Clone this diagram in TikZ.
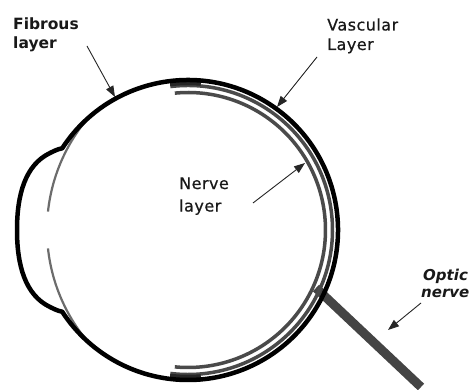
\documentclass[tikz,border=0pt]{standalone}
\usepackage{fontspec}
\usetikzlibrary{arrows.meta}
\newfontfamily\lblfont[LetterSpace=3,FakeBold=0.6]{DejaVu Sans}
\newfontfamily\lblbold{DejaVu Sans}
\definecolor{layergray}{HTML}{4A4A4A}
\definecolor{irisgray}{HTML}{6C6C6C}
\definecolor{nervegray}{HTML}{444444}
\tikzset{
  lbl/.style={anchor=base west, inner sep=0pt, text=black!90},
  plainlbl/.style={lbl, font=\lblfont\fontsize{16}{19}\selectfont},
  boldlbl/.style={lbl, font=\lblbold\bfseries\fontsize{15.5}{19}\selectfont},
  italbl/.style={lbl, font=\lblbold\bfseries\itshape\fontsize{15}{18}\selectfont},
  pointer/.style={draw=black!85, line width=0.9pt,
    -{Triangle[length=11pt,width=8pt]}},
  fibrous/.style={draw=black, line width=4.5pt},
  vascular/.style={draw=layergray, line width=3.5pt},
  nervelayer/.style={draw=layergray, line width=3.5pt},
  layerjoin/.style={draw=black!85, line width=3.5pt},
  iris/.style={draw=irisgray, line width=2.2pt},
  opticband/.style={draw=nervegray, line width=9pt}
}
\begin{document}
\begin{tikzpicture}[x=1pt, y=1pt]
  \useasboundingbox[fill=white] (0,0) rectangle (473,-390);
  % centre of the eyeball
  \coordinate (c) at (188,-230);

  % optic nerve leaving the back of the eye
  \coordinate (onA) at (316,-288);
  \coordinate (onB) at (421,-387);
  \draw[opticband] (onA) -- (onB);

  % inner layers on the right-hand side
  \draw[nervelayer] ([shift={(95.5:137.5)}]c) arc[start angle=95.5, end angle=-95.5, radius=137.5];
  \draw[vascular] ([shift={(97:144.5)}]c) arc[start angle=97, end angle=-97, radius=144.5];
  % where the vascular coat meets the fibrous coat at its two ends
  \draw[layerjoin] ([shift={(97:146.5)}]c) arc[start angle=97, end angle=85, radius=146.5];
  \draw[layerjoin] ([shift={(-97:146.5)}]c) arc[start angle=-97, end angle=-85, radius=146.5];

  % thin line behind the cornea, open at the pupil
  \draw[iris] plot[domain=133:172.5, samples=30, smooth, variable=\t]
    ({188+(141+8*((\t-180)/45)^2)*cos(\t)}, {-230+(141+8*((\t-180)/45)^2)*sin(\t)});
  \draw[iris] plot[domain=187.5:226, samples=30, smooth, variable=\t]
    ({188+(141+8*((\t-180)/45)^2)*cos(\t)}, {-230+(141+8*((\t-180)/45)^2)*sin(\t)});

  % fibrous coat with the cornea bulging on the left
  \draw[fibrous, line join=round]
    ([shift={(147:150)}]c) arc[start angle=147, end angle=-147, radius=150]
    .. controls (58,-311) and (54,-309) .. (50,-307)
    .. controls (25,-295) and (17,-265) .. (17,-230)
    .. controls (17,-195) and (25,-165) .. (50,-153)
    .. controls (54,-151) and (58,-149) .. cycle;

  % labels
  \node[boldlbl] (fib1) at (13,-29.3) {Fibrous};
  \node[boldlbl] (fib2) at (13,-48.5) {layer};
  \node[plainlbl] (vas1) at (327,-30.5) {Vascular};
  \node[plainlbl] (vas2) at (327,-50) {Layer};
  \node[plainlbl] (ner1) at (179,-189) {Nerve};
  \node[plainlbl] (ner2) at (179,-211.5) {layer};
  \node[italbl] (opt1) at (423,-280.5) {Optic};
  \node[italbl] (opt2) at (421,-297) {nerve};

  % pointer arrows
  \coordinate (fibS) at (87,-46);   \coordinate (fibE) at (115,-97);
  \coordinate (vasS) at (317,-57);  \coordinate (vasE) at (277,-107);
  \coordinate (nerS) at (253,-203); \coordinate (nerE) at (305,-163);
  \coordinate (optS) at (421,-303); \coordinate (optE) at (388,-330);
  \draw[pointer] (fibS) -- (fibE);
  \draw[pointer] (vasS) -- (vasE);
  \draw[pointer] (nerS) -- (nerE);
  \draw[pointer] (optS) -- (optE);
\end{tikzpicture}
\end{document}
